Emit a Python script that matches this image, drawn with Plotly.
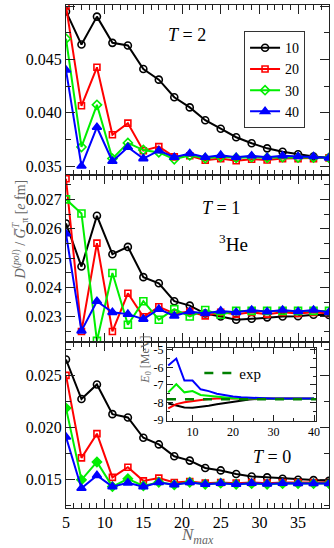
import plotly.graph_objects as go
from plotly.subplots import make_subplots

# N_max values for the main panels
n_max = [5, 7, 9, 11, 13, 15, 17, 19, 21, 23, 25, 27, 29, 31, 33, 35, 37, 39]
series_names = ["10", "20", "30", "40"]

# T = 2 panel
t2_10 = [0.0495, 0.04639, 0.04901, 0.04655, 0.0463, 0.0441, 0.0431, 0.04145, 0.0405,
         0.0393, 0.0385, 0.0377, 0.03714, 0.03666, 0.03634, 0.0361, 0.0359, 0.03577]
t2_20 = [0.0500, 0.04065, 0.04426, 0.03794, 0.03902, 0.03644, 0.03682, 0.03586, 0.03596,
         0.03554, 0.0357, 0.0355, 0.03564, 0.03557, 0.0357, 0.0357, 0.0357, 0.03577]
t2_30 = [0.04694, 0.03679, 0.04074, 0.0357, 0.03717, 0.0365, 0.03628, 0.03564, 0.036,
         0.03573, 0.03586, 0.03577, 0.03583, 0.03577, 0.03583, 0.0358, 0.0358, 0.03577]
t2_40 = [0.0440, 0.0350, 0.03864, 0.03545, 0.03676, 0.0357, 0.03644, 0.03583, 0.03618,
         0.03583, 0.03602, 0.03583, 0.03596, 0.03583, 0.03596, 0.0359, 0.0359, 0.03577]

# T = 1 panel
t1_10 = [0.02618, 0.02471, 0.02644, 0.02513, 0.02538, 0.02435, 0.02414, 0.02353, 0.02338,
         0.02311, 0.02301, 0.0229, 0.02293, 0.02298, 0.02301, 0.02302, 0.02307, 0.02306]
t1_20 = [0.0277, 0.0225, 0.02551, 0.0225, 0.0238, 0.0230, 0.02334, 0.02311, 0.02318,
         0.02303, 0.02315, 0.02309, 0.02315, 0.02309, 0.02315, 0.02311, 0.02315, 0.02311]
t1_30 = [0.0270, 0.02652, 0.02218, 0.02449, 0.02273, 0.02353, 0.0229, 0.02326, 0.02301,
         0.02323, 0.02307, 0.0232, 0.0232, 0.0232, 0.0232, 0.0232, 0.0232, 0.0232]
t1_40 = [0.02583, 0.02252, 0.02353, 0.02315, 0.02309, 0.02292, 0.02326, 0.02303, 0.02318,
         0.02311, 0.0232, 0.02315, 0.02323, 0.02317, 0.02323, 0.02318, 0.02323, 0.02315]

# T = 0 panel
t0_10 = [0.02652, 0.02274, 0.02413, 0.02129, 0.02097, 0.01903, 0.01839, 0.01726, 0.01684,
         0.01613, 0.0159, 0.01555, 0.01532, 0.01523, 0.0151, 0.0150, 0.01497, 0.0149]
t0_20 = [0.0250, 0.0171, 0.01942, 0.01523, 0.0162, 0.0149, 0.01516, 0.01474, 0.01484,
         0.01468, 0.01474, 0.01468, 0.01474, 0.01468, 0.01474, 0.01474, 0.01474, 0.01474]
t0_30 = [0.02187, 0.0150, 0.01671, 0.01435, 0.0151, 0.01442, 0.01477, 0.01452, 0.01477,
         0.01458, 0.01468, 0.01458, 0.01464, 0.01458, 0.01464, 0.01464, 0.01464, 0.01464]
t0_40 = [0.0191, 0.01419, 0.01542, 0.01435, 0.01471, 0.01435, 0.01474, 0.01452, 0.01474,
         0.01458, 0.01468, 0.01458, 0.01468, 0.01461, 0.01468, 0.01464, 0.01464, 0.01464]

# inset: ground state energy E_0 [MeV]
inset_n = [4, 6, 8, 10, 12, 14, 16, 18, 20, 22, 24, 26, 28, 30, 32, 34, 36, 38, 40]
e0_10 = [-8.05, -8.18, -8.28, -8.30, -8.26, -8.18, -8.10, -8.03, -7.95, -7.88, -7.83,
         -7.80, -7.78, -7.78, -7.78, -7.78, -7.78, -7.78, -7.78]
e0_20 = [-8.33, -8.09, -7.99, -7.92, -7.86, -7.80, -7.77, -7.77, -7.78, -7.78, -7.78,
         -7.78, -7.78, -7.78, -7.78, -7.78, -7.78, -7.78, -7.78]
e0_30 = [-7.42, -6.96, -7.42, -7.35, -7.57, -7.62, -7.68, -7.72, -7.75, -7.77, -7.78,
         -7.78, -7.78, -7.78, -7.78, -7.78, -7.78, -7.78, -7.78]
e0_40 = [-5.90, -5.50, -6.75, -6.75, -7.25, -7.35, -7.50, -7.60, -7.66, -7.70, -7.73,
         -7.75, -7.76, -7.77, -7.77, -7.77, -7.77, -7.77, -7.77]
exp_n = [3.7, 40.5]
exp_e0 = [-7.82, -7.82]

colors = ["black", "#ff0000", "#00ee00", "#0000ff"]
FONT = "Liberation Serif"

fig = make_subplots(rows=3, cols=1, shared_xaxes=True, vertical_spacing=0,
                    row_heights=[170, 167, 166])

panels = [
    (1, [t2_10, t2_20, t2_30, t2_40],
     ["circle-open", "square-open", "diamond-open", "triangle-up"]),
    (2, [t1_10, t1_20, t1_30, t1_40],
     ["circle-open", "square-open", "square-open", "triangle-up"]),
    (3, [t0_10, t0_20, t0_30, t0_40],
     ["circle-open", "square-open", "diamond", "triangle-up"]),
]
sizes = [7, 6, 7, 8]

for row, data, symbols in panels:
    for name, vals, color, sym, sz in zip(series_names, data, colors, symbols, sizes):
        fig.add_trace(
            go.Scatter(
                x=n_max, y=vals, mode="lines+markers", name=name,
                line=dict(color=color, width=2),
                marker=dict(symbol=sym, size=sz, color=color, line=dict(width=1.6, color=color)),
                showlegend=(row == 1),
            ),
            row=row, col=1,
        )

# inset curves
for vals, color in zip([e0_10, e0_20, e0_30, e0_40], colors):
    fig.add_trace(go.Scatter(x=inset_n, y=vals, mode="lines", line=dict(color=color, width=2),
                             showlegend=False, xaxis="x4", yaxis="y4"))
fig.add_trace(go.Scatter(x=exp_n, y=exp_e0, mode="lines", name="exp",
                         line=dict(color="#008000", width=2.5, dash="dash"),
                         xaxis="x4", yaxis="y4", legend="legend2"))

axis_common = dict(showline=True, linecolor="#222", linewidth=1.2, mirror="allticks",
                   ticks="inside", tickcolor="#222", showgrid=False, zeroline=False,
                   automargin=False,
                   tickfont=dict(family=FONT, size=16, color="black"))

fig.update_xaxes(range=[5, 39], tickvals=[5, 10, 15, 20, 25, 30, 35], ticklen=9,
                 minor=dict(ticks="inside", dtick=1, tick0=5, ticklen=5, tickcolor="#222"),
                 **axis_common)
fig.update_xaxes(showticklabels=False, row=1, col=1)
fig.update_xaxes(showticklabels=False, row=2, col=1)

fig.update_yaxes(ticklen=9, tickformat=".3f", **axis_common)
fig.update_yaxes(range=[0.03416, 0.0501], dtick=0.005, tick0=0.035,
                 minor=dict(ticks="inside", dtick=0.0025, ticklen=5, tickcolor="#222"),
                 row=1, col=1)
fig.update_yaxes(range=[0.02214, 0.02783], dtick=0.001, tick0=0.023,
                 minor=dict(ticks="inside", dtick=0.0005, ticklen=5, tickcolor="#222"),
                 row=2, col=1)
fig.update_yaxes(range=[0.0123, 0.0282], dtick=0.005, tick0=0.015,
                 minor=dict(ticks="inside", dtick=0.0025, ticklen=5, tickcolor="#222"),
                 row=3, col=1)

inset_axis = dict(showline=True, linecolor="#222", linewidth=1.2, mirror="allticks",
                  ticks="inside", tickcolor="#222", showgrid=False, zeroline=False,
                  automargin=False,
                  ticklen=6, tickfont=dict(family=FONT, size=12, color="black"))
fig.update_layout(
    xaxis4=dict(domain=[0.384, 0.951], anchor="y4", range=[3.7, 40.5],
                tickvals=[10, 20, 30, 40],
                minor=dict(ticks="inside", dtick=5, tick0=0, ticklen=3, tickcolor="#222"),
                **inset_axis),
    yaxis4=dict(domain=[0.173, 0.318], anchor="x4", range=[-9.05, -4.9],
                tickvals=[-9, -8, -7, -6, -5], ticktext=["-9", "-8", "-7", "-6", "-5"],
                minor=dict(ticks="inside", dtick=0.5, ticklen=3, tickcolor="#222"),
                **inset_axis),
)

annotations = [
    dict(text="<i>T</i> = 2", x=20.6, y=0.04729, xref="x", yref="y", font_size=18),
    dict(text="<i>T</i> = 1", x=25.1, y=0.02671, xref="x2", yref="y2", font_size=18),
    dict(text="<sup>3</sup>He", x=26.6, y=0.02551, xref="x2", yref="y2", font_size=19),
    dict(text="<i>T</i> = 0", x=31.6, y=0.01721, xref="x3", yref="y3", font_size=18),
    dict(text="<i>D</i><sup>(<i>pol</i>)</sup> / <i>G&#773;</i><sup><i>T</i></sup><sub>π</sub> [<i>e</i> fm]",
         x=-0.222, y=0.553, xref="paper", yref="paper", textangle=-90,
         font_size=14, font_color="#666"),
    dict(text="<i>E</i><sub>0</sub> [MeV]", x=0.265, y=0.2425, xref="paper", yref="paper",
         textangle=-90, font_size=12, font_color="#666"),
    dict(text="<i>N<sub>max</sub></i>", x=0.5, y=-0.0795, xref="paper", yref="paper",
         yanchor="bottom", font_size=17, font_color="#666", borderpad=0),
]
for a in annotations:
    a.setdefault("font_color", "black")
    a["font_family"] = FONT
    a["showarrow"] = False
    fig.add_annotation(**a)

fig.update_layout(
    width=334, height=548,
    margin=dict(l=66, r=5, t=5, b=40),
    plot_bgcolor="white", paper_bgcolor="white",
    font=dict(family=FONT, size=16, color="black"),
    legend=dict(x=0.677, y=0.948, xanchor="left", yanchor="top",
                bordercolor="#333", borderwidth=1, bgcolor="white",
                font=dict(family=FONT, size=14), tracegroupgap=0),
    legend2=dict(x=0.507, y=0.268, xanchor="left", yanchor="middle",
                 bgcolor="rgba(0,0,0,0)", font=dict(family=FONT, size=15)),
)

# the page's default body margin would shift the figure by 8px
fig.write_html("out.html", config={"displayModeBar": False},
               post_script="document.body.style.margin='0';")
